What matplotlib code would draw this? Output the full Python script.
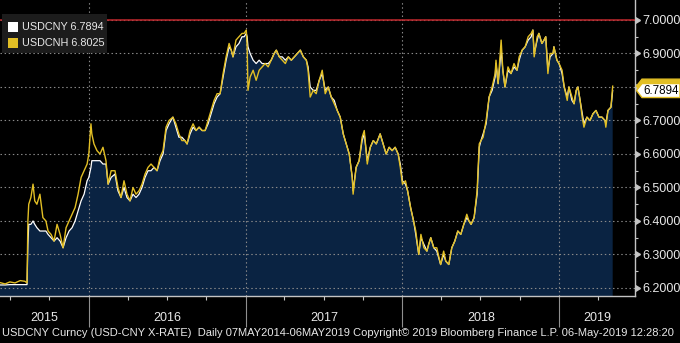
import matplotlib
matplotlib.use("Agg")
import matplotlib.pyplot as plt
import matplotlib.dates as mdates
import matplotlib.transforms as mtransforms
from matplotlib.patches import Rectangle, Polygon
from matplotlib.ticker import FixedLocator, NullFormatter, FuncFormatter
import numpy as np
import pandas as pd

# ---------------- data ----------------
dates = [
    "2015-06-08", "2015-06-20", "2015-07-01", "2015-07-13", "2015-07-25", "2015-08-05", "2015-08-10",
    "2015-08-12", "2015-08-14", "2015-08-19", "2015-08-24", "2015-08-28", "2015-09-02", "2015-09-09",
    "2015-09-16", "2015-09-23", "2015-09-28", "2015-10-05", "2015-10-12", "2015-10-19", "2015-10-26",
    "2015-11-02", "2015-11-09", "2015-11-16", "2015-11-23", "2015-11-30", "2015-12-07", "2015-12-14",
    "2015-12-21", "2015-12-28",
    "2016-01-01", "2016-01-06", "2016-01-08", "2016-01-13", "2016-01-20", "2016-01-27", "2016-02-03",
    "2016-02-10", "2016-02-15", "2016-02-22", "2016-03-02", "2016-03-09", "2016-03-16", "2016-03-23",
    "2016-03-30", "2016-04-06", "2016-04-13", "2016-04-20", "2016-04-27", "2016-05-04", "2016-05-11",
    "2016-05-18", "2016-05-25", "2016-06-01", "2016-06-08", "2016-06-15", "2016-06-22", "2016-06-29",
    "2016-07-06", "2016-07-15", "2016-07-22", "2016-07-29", "2016-08-05", "2016-08-12", "2016-08-17",
    "2016-08-24", "2016-08-31", "2016-09-07", "2016-09-14", "2016-09-21", "2016-09-28", "2016-10-05",
    "2016-10-12", "2016-10-19", "2016-10-26", "2016-11-02", "2016-11-09", "2016-11-16", "2016-11-23",
    "2016-11-28", "2016-12-02", "2016-12-09", "2016-12-16", "2016-12-23", "2016-12-28",
    "2017-01-02", "2017-01-04", "2017-01-06", "2017-01-11", "2017-01-18", "2017-01-25", "2017-02-01",
    "2017-02-08", "2017-02-15", "2017-02-22", "2017-03-01", "2017-03-08", "2017-03-13", "2017-03-20",
    "2017-03-27", "2017-04-03", "2017-04-10", "2017-04-17", "2017-04-24", "2017-05-01", "2017-05-08",
    "2017-05-15", "2017-05-22", "2017-05-26", "2017-05-31", "2017-06-07", "2017-06-14", "2017-06-21",
    "2017-06-28", "2017-07-05", "2017-07-12", "2017-07-19", "2017-07-26", "2017-08-02", "2017-08-09",
    "2017-08-16", "2017-08-23", "2017-08-30", "2017-09-06", "2017-09-08", "2017-09-15", "2017-09-22",
    "2017-09-29", "2017-10-04", "2017-10-11", "2017-10-18", "2017-10-25", "2017-11-01", "2017-11-10",
    "2017-11-17", "2017-11-24", "2017-12-01", "2017-12-08", "2017-12-15", "2017-12-22", "2017-12-27",
    "2018-01-01", "2018-01-08", "2018-01-13", "2018-01-20", "2018-01-27", "2018-02-01", "2018-02-08",
    "2018-02-13", "2018-02-20", "2018-02-27", "2018-03-03", "2018-03-08", "2018-03-15", "2018-03-22",
    "2018-03-31", "2018-04-07", "2018-04-12", "2018-04-19", "2018-04-26", "2018-05-03", "2018-05-10",
    "2018-05-17", "2018-05-24", "2018-05-31", "2018-06-05", "2018-06-10", "2018-06-17", "2018-06-24",
    "2018-06-29", "2018-07-03", "2018-07-08", "2018-07-15", "2018-07-22", "2018-07-29", "2018-08-05",
    "2018-08-07", "2018-08-12", "2018-08-19", "2018-08-23", "2018-08-28", "2018-09-04", "2018-09-11",
    "2018-09-18", "2018-09-25", "2018-09-30", "2018-10-07", "2018-10-14", "2018-10-21", "2018-10-28",
    "2018-11-01", "2018-11-04", "2018-11-11", "2018-11-15", "2018-11-22", "2018-11-27", "2018-12-01",
    "2018-12-06", "2018-12-11", "2018-12-18", "2018-12-20", "2018-12-27",
    "2019-01-01", "2019-01-08", "2019-01-13", "2019-01-20", "2019-01-24", "2019-01-31", "2019-02-05",
    "2019-02-10", "2019-02-14", "2019-02-19", "2019-02-24", "2019-02-28", "2019-03-07", "2019-03-14",
    "2019-03-21", "2019-03-28", "2019-04-04", "2019-04-11", "2019-04-18", "2019-04-20", "2019-04-25",
    "2019-05-02", "2019-05-06",
]

usdcny = [
    6.209, 6.209, 6.210, 6.210, 6.210, 6.210, 6.210, 6.33, 6.39, 6.39, 6.40, 6.39, 6.38, 6.37, 6.37,
    6.37, 6.36, 6.35, 6.34, 6.35, 6.34, 6.32, 6.35, 6.37, 6.38, 6.40, 6.43, 6.46, 6.48, 6.52,
    # 2016
    6.53, 6.56, 6.58, 6.58, 6.58, 6.58, 6.57, 6.57, 6.51, 6.53,
    6.54, 6.49, 6.47, 6.50, 6.47, 6.46, 6.48, 6.47, 6.48, 6.50,
    6.53, 6.55, 6.55, 6.56, 6.55, 6.58, 6.60, 6.67, 6.69, 6.71,
    6.68, 6.65, 6.65, 6.64, 6.63, 6.66, 6.68, 6.67, 6.68, 6.67,
    6.67, 6.69, 6.72, 6.75, 6.77, 6.78, 6.83, 6.88, 6.92, 6.91,
    6.89, 6.92, 6.93, 6.95, 6.95,
    # 2017
    6.96, 6.95, 6.92, 6.90, 6.88, 6.87, 6.88, 6.87, 6.87, 6.87,
    6.88, 6.90, 6.91, 6.89, 6.89, 6.88, 6.89, 6.88, 6.89, 6.90,
    6.91, 6.89, 6.88, 6.86, 6.80, 6.79, 6.79, 6.82, 6.84, 6.79,
    6.80, 6.77, 6.76, 6.73, 6.71, 6.66, 6.63, 6.60, 6.53, 6.49,
    6.56, 6.58, 6.64, 6.66, 6.58, 6.62, 6.64, 6.63, 6.66, 6.63,
    6.60, 6.62, 6.61, 6.62, 6.60, 6.57,
    # 2018
    6.52, 6.51, 6.49, 6.44, 6.40, 6.36, 6.30, 6.35, 6.33, 6.31,
    6.33, 6.35, 6.32, 6.31, 6.27, 6.30, 6.28, 6.27, 6.32, 6.34,
    6.37, 6.36, 6.39, 6.41, 6.40, 6.39, 6.41, 6.48, 6.62, 6.64,
    6.66, 6.69, 6.77, 6.79, 6.83, 6.87, 6.81, 6.91, 6.85, 6.80,
    6.85, 6.84, 6.86, 6.85, 6.88, 6.91, 6.92, 6.94, 6.95, 6.97,
    6.90, 6.94, 6.96, 6.93, 6.94, 6.95, 6.85, 6.89, 6.90, 6.92,
    6.88,
    # 2019
    6.87, 6.84, 6.80, 6.77, 6.80, 6.76, 6.75, 6.79, 6.80, 6.76,
    6.72, 6.69, 6.71, 6.70, 6.72, 6.73, 6.71, 6.71, 6.70, 6.69,
    6.73, 6.74, 6.7894,
]

usdcnh = [
    6.216, 6.212, 6.218, 6.215, 6.222, 6.220, 6.215, 6.40, 6.45, 6.47, 6.51, 6.46, 6.45, 6.48, 6.41,
    6.40, 6.37, 6.36, 6.34, 6.39, 6.36, 6.32, 6.38, 6.40, 6.42, 6.44, 6.48, 6.53, 6.55, 6.57,
    # 2016
    6.60, 6.69, 6.66, 6.63, 6.61, 6.60, 6.62, 6.58, 6.51, 6.55,
    6.55, 6.50, 6.47, 6.52, 6.48, 6.46, 6.50, 6.48, 6.49, 6.51,
    6.54, 6.56, 6.57, 6.56, 6.55, 6.59, 6.61, 6.68, 6.70, 6.71,
    6.69, 6.66, 6.64, 6.64, 6.63, 6.67, 6.69, 6.67, 6.68, 6.67,
    6.67, 6.70, 6.73, 6.76, 6.78, 6.78, 6.84, 6.89, 6.93, 6.91,
    6.89, 6.94, 6.95, 6.96, 6.96,
    # 2017
    6.97, 6.92, 6.79, 6.83, 6.85, 6.82, 6.85, 6.86, 6.87, 6.86,
    6.88, 6.90, 6.91, 6.89, 6.88, 6.87, 6.89, 6.88, 6.89, 6.90,
    6.91, 6.89, 6.88, 6.85, 6.77, 6.79, 6.78, 6.82, 6.85, 6.78,
    6.80, 6.77, 6.75, 6.73, 6.71, 6.66, 6.63, 6.60, 6.53, 6.48,
    6.56, 6.58, 6.65, 6.67, 6.57, 6.62, 6.64, 6.63, 6.66, 6.63,
    6.60, 6.62, 6.61, 6.62, 6.60, 6.56,
    # 2018
    6.51, 6.52, 6.49, 6.44, 6.40, 6.37, 6.30, 6.36, 6.32, 6.31,
    6.33, 6.35, 6.32, 6.32, 6.27, 6.31, 6.28, 6.27, 6.32, 6.34,
    6.37, 6.36, 6.39, 6.42, 6.40, 6.39, 6.41, 6.49, 6.63, 6.64,
    6.65, 6.70, 6.77, 6.80, 6.84, 6.88, 6.81, 6.94, 6.85, 6.80,
    6.86, 6.84, 6.87, 6.85, 6.89, 6.91, 6.92, 6.95, 6.96, 6.97,
    6.89, 6.95, 6.96, 6.93, 6.94, 6.95, 6.84, 6.90, 6.90, 6.92,
    6.88,
    # 2019
    6.87, 6.85, 6.80, 6.76, 6.80, 6.77, 6.75, 6.79, 6.80, 6.76,
    6.71, 6.68, 6.71, 6.70, 6.72, 6.73, 6.71, 6.71, 6.70, 6.68,
    6.73, 6.74, 6.8025,
]

series_names = ["USDCNY", "USDCNH"]
y_ticks = [6.2, 6.3, 6.4, 6.5, 6.6, 6.7, 6.8, 6.9, 7.0]
y_minor = [6.25, 6.35, 6.45, 6.55, 6.65, 6.75, 6.85, 6.95]
year_labels = ["2015", "2016", "2017", "2018", "2019"]
ref_level = 7.0
x_range = ("2015-06-08", "2019-06-27")
y_range = (6.176, 7.0597)
footer = ("USDCNY Curncy (USD-CNY X-RATE)  Daily 07MAY2014-06MAY2019 Copyright\u00a9 2019 "
          "Bloomberg Finance L.P. 06-May-2019 12:28:20")

# ---------------- style ----------------
plt.rcParams["font.family"] = ["Liberation Sans", "DejaVu Sans"]
NAVY = "#0a2342"
YELLOW = "#e2bf25"
TXT = "#e8e8e8"
GRID = "#8a8a8a"
AXC = "#c4c4c4"

W, H = 680, 343
fig = plt.figure(figsize=(W / 100, H / 100), dpi=100)
fig.patch.set_facecolor("black")
ax = fig.add_axes([0, 47 / H, 635 / W, 296 / H])
ax.set_facecolor("black")

d = pd.to_datetime(dates)
ax.fill_between(d, usdcny, y_range[0] - 1, color=NAVY, lw=0, zorder=1)
ax.plot(d, usdcny, color="white", lw=0.9, zorder=3)
ax.plot(d, usdcnh, color=YELLOW, lw=1.0, zorder=4)
ax.axhline(ref_level, color="#c0282d", lw=1.1, zorder=5)

ax.set_xlim(pd.Timestamp(x_range[0]), pd.Timestamp(x_range[1]))
ax.set_ylim(*y_range)

# spines
for s in ["top", "left"]:
    ax.spines[s].set_visible(False)
for s in ["right", "bottom"]:
    ax.spines[s].set_color(AXC)
    ax.spines[s].set_linewidth(1.0)

# x axis
ax.xaxis.set_major_locator(mdates.YearLocator())
ax.xaxis.set_minor_locator(mdates.MonthLocator(bymonth=[1, 4, 7, 10]))
ax.xaxis.set_major_formatter(NullFormatter())
ax.xaxis.set_minor_formatter(NullFormatter())
ax.tick_params(axis="x", which="major", length=22, width=0.8, color="#8f8f8f", direction="out")
ax.tick_params(axis="x", which="minor", length=3.2, width=0.8, color=AXC, direction="out")

# y axis on the right (the label under the last-value tag is hidden, as in the reference)
last_cny = usdcny[-1]


def ylab(v, pos):
    if abs(v - last_cny) < 0.03:
        return ""
    return f"{v:.4f}"


ax.yaxis.tick_right()
ax.yaxis.set_major_locator(FixedLocator(y_ticks))
ax.yaxis.set_minor_locator(FixedLocator(y_minor))
ax.yaxis.set_major_formatter(FuncFormatter(ylab))
ax.tick_params(axis="y", which="major", length=0, pad=5.5, labelsize=9, labelcolor=TXT)
ax.tick_params(axis="y", which="minor", length=2.5, width=0.8, color=AXC, direction="out")
ax.plot(np.ones(len(y_ticks)), y_ticks, transform=ax.get_yaxis_transform(), ls="none",
        marker=9, ms=5, color=AXC, clip_on=False, zorder=6)

# grid
ax.set_axisbelow("line")
ax.grid(axis="y", which="major", color=GRID, lw=0.8, ls=(0, (1.3, 2.4)))
ax.grid(axis="x", which="major", color=GRID, lw=0.8, ls=(0, (1.3, 2.4)))

# year labels centred on the visible part of each year
x0, x1 = ax.get_xlim()
xt = ax.get_xaxis_transform()
label_y = (296 - 318) / 296
for yl in year_labels:
    a = max(mdates.date2num(pd.Timestamp(f"{yl}-01-01")), x0)
    b = min(mdates.date2num(pd.Timestamp(f"{int(yl) + 1}-01-01")), x1)
    ax.text((a + b) / 2, label_y, yl, transform=xt, ha="center", va="center",
            fontsize=9, color=TXT, clip_on=False)


def fx(px):
    return px / W


def fy(py):
    return 1 - py / H


# legend box
fig.add_artist(Rectangle((fx(2), fy(53)), 105 / W, 39 / H, transform=fig.transFigure,
                         facecolor="#1c1c1c", edgecolor="none", zorder=10))
fig.add_artist(Rectangle((fx(8), fy(32)), 10 / W, 10 / H, transform=fig.transFigure,
                         facecolor="white", edgecolor="none", zorder=11))
fig.add_artist(Rectangle((fx(8), fy(48)), 10 / W, 10 / H, transform=fig.transFigure,
                         facecolor=YELLOW, edgecolor="none", zorder=11))
fig.text(fx(22), fy(27.5), f"{series_names[0]} {usdcny[-1]:.4f}", fontsize=7.8, color=TXT,
         va="center", ha="left", zorder=12)
fig.text(fx(22), fy(43.5), f"{series_names[1]} {usdcnh[-1]:.4f}", fontsize=7.8, color=TXT,
         va="center", ha="left", zorder=12)

# last value tags on the right
blend = mtransforms.blended_transform_factory(fig.transFigure, ax.transData)
hh = (y_range[1] - y_range[0]) / 296 * 7


def tag(v, face, edge):
    pts = [(fx(636.5), v), (fx(642), v + hh), (1.0, v + hh), (1.0, v - hh), (fx(642), v - hh)]
    p = Polygon(pts, closed=True, transform=blend, facecolor=face, edgecolor=edge, lw=1.0,
                clip_on=False, zorder=20)
    fig.add_artist(p)


tag(usdcnh[-1], YELLOW, YELLOW)
tag(usdcny[-1], "white", YELLOW)
fig.text(fx(643), usdcny[-1], f"{usdcny[-1]:.4f}", transform=blend, fontsize=8.4,
         color="black", va="center", ha="left", zorder=21)

# footer, fitted to the width of the image
ft = fig.text(fx(2), fy(333), footer, fontsize=8, color=TXT, va="center", ha="left")
fig.canvas.draw()
wpx = ft.get_window_extent().width
ft.set_fontsize(8 * 676 / wpx)

fig.savefig("out.png", dpi=100, facecolor="black")
